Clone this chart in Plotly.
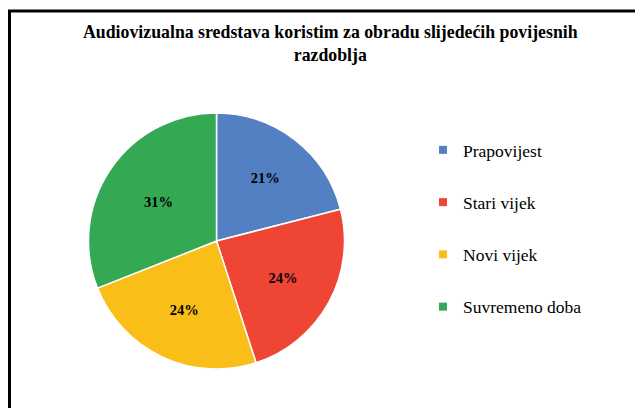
import plotly.graph_objects as go

categories = ["Prapovijest", "Stari vijek", "Novi vijek", "Suvremeno doba"]
values = [21, 24, 24, 31]
colors = ["#5280C2", "#EE4535", "#F9BE18", "#34A853"]
title_text = "Audiovizualna sredstava koristim za obradu slijedećih povijesnih<br>razdoblja"

# browser body margin offsets the figure by 8px; size figure to fit the viewport
OFF = 8
W, H = 643 - OFF, 408 - OFF
SERIF = "Liberation Serif"


def px(x):
    return (x - OFF) / W


def py(y):
    return 1 - (y - OFF) / H


fig = go.Figure()
fig.add_trace(go.Pie(
    labels=categories, values=values, sort=False, direction="clockwise", rotation=0,
    marker=dict(colors=colors, line=dict(color="white", width=1.5)),
    texttemplate="<b>%{percent:.0%}</b>", textposition="inside", insidetextorientation="horizontal",
    textfont=dict(family=SERIF, size=14.5, color="black"),
    domain=dict(x=[px(88), px(345)], y=[py(369), py(113)]),
    showlegend=False, hoverinfo="label+percent",
))
for c, col in zip(categories, colors):
    fig.add_trace(go.Scatter(
        x=[None], y=[None], mode="markers", name=c, legendgroup=c,
        marker=dict(symbol="square", size=8, color=col),
    ))

fig.update_layout(
    width=W, height=H, margin=dict(l=0, r=0, t=0, b=0),
    paper_bgcolor="white", plot_bgcolor="white",
    xaxis=dict(visible=False), yaxis=dict(visible=False),
    annotations=[dict(text="<b>" + title_text + "</b>", xref="paper", yref="paper",
                      x=px(330), y=py(20), xanchor="center", yanchor="top", showarrow=False,
                      font=dict(family=SERIF, size=17.8, color="black"))],
    legend=dict(x=px(423), y=py(132), xanchor="left", yanchor="top", tracegroupgap=26.5,
                font=dict(family=SERIF, size=17.5, color="black"), bgcolor="rgba(0,0,0,0)"),
    shapes=[
        dict(type="line", xref="paper", yref="paper", x0=px(8), x1=1.0, y0=py(11), y1=py(11),
             line=dict(color="black", width=3)),
        dict(type="line", xref="paper", yref="paper", x0=px(9.5), x1=px(9.5), y0=0, y1=py(11),
             line=dict(color="black", width=3)),
    ],
)
fig.write_html("out.html")
